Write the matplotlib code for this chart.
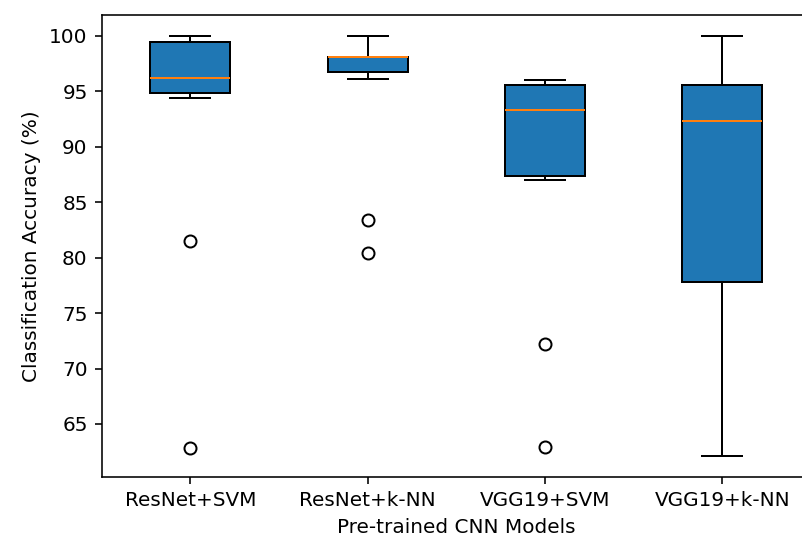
import matplotlib
matplotlib.use("Agg")
import matplotlib.pyplot as plt

# Résumés des boîtes
models = ["ResNet+SVM", "ResNet+k-NN", "VGG19+SVM", "VGG19+k-NN"]
medians = [96.18, 98.07, 93.31, 92.35]
q1 = [94.79, 96.75, 87.38, 77.8]
q3 = [99.43, 98.1, 95.57, 95.57]
whislo = [94.42, 96.14, 86.96, 62.14]
whishi = [100.0, 100.0, 96.0, 100.0]
fliers = [[81.47, 62.8], [83.37, 80.45], [72.23, 62.89], []]


def build_stats():
    stats = []
    for i, name in enumerate(models):
        stats.append({
            "label": name,
            "med": medians[i],
            "q1": q1[i],
            "q3": q3[i],
            "whislo": whislo[i],
            "whishi": whishi[i],
            "fliers": fliers[i],
        })
    return stats


def plot_results(stats):
    fig = plt.figure(figsize=(802 / 144, 538 / 144), dpi=144)
    # l'image d'origine est rognée à droite : le cadre droit sort du champ
    ax = fig.add_axes([0.1268, 0.1139, 1.0112 - 0.1268, 0.9727 - 0.1139])
    ax.bxp(stats, widths=0.45, patch_artist=True,
           boxprops=dict(facecolor="#1f77b4", edgecolor="black"),
           medianprops=dict(color="#ff7f0e"),
           flierprops=dict(marker="o", markerfacecolor="none", markeredgecolor="black"))
    ax.spines["right"].set_visible(False)
    ax.set_xlabel("Pre-trained CNN Models")
    ax.set_ylabel("Classification Accuracy (%)")
    fig.savefig("out.png", dpi=144)


if __name__ == "__main__":
    plot_results(build_stats())
